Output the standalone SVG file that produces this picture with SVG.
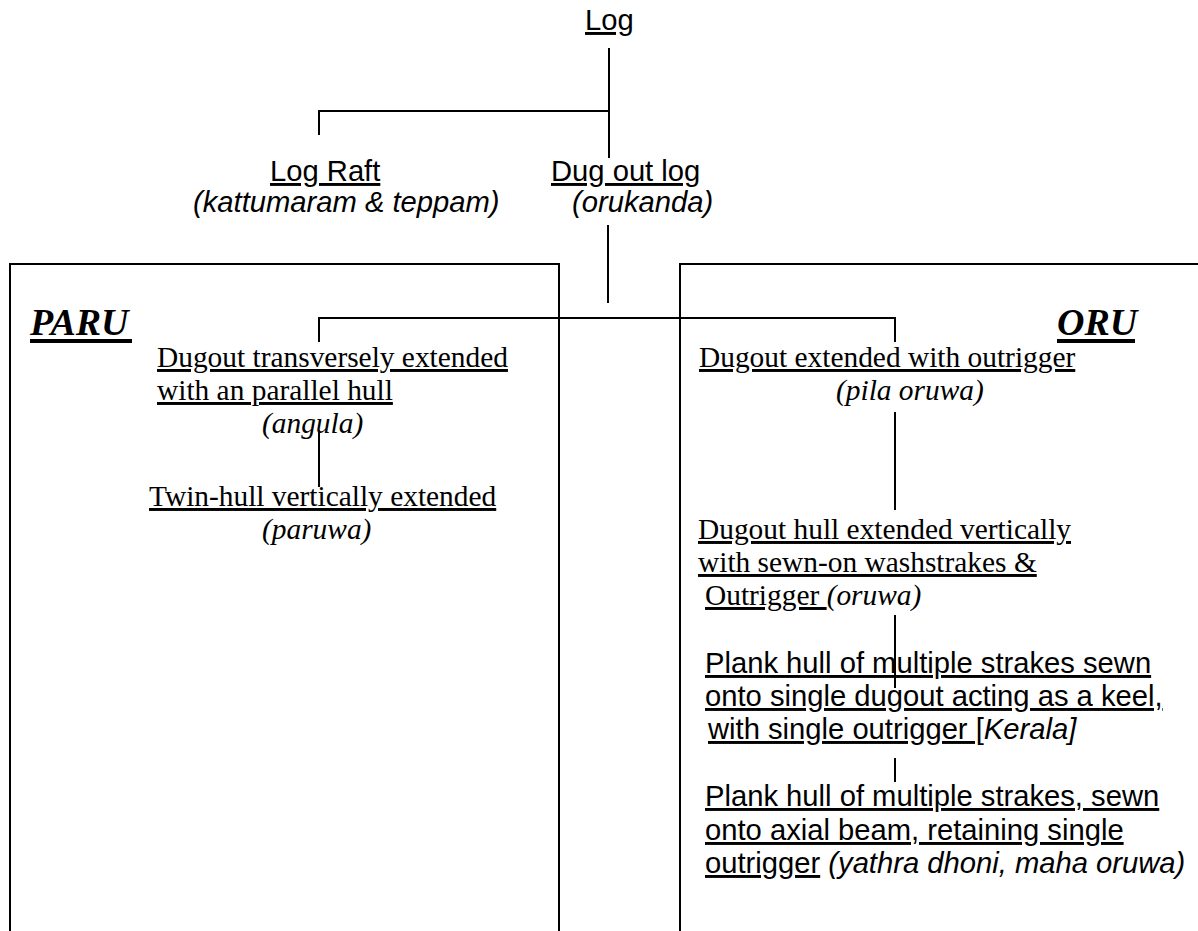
<svg xmlns="http://www.w3.org/2000/svg" width="1198" height="931" viewBox="0 0 1198 931">
<style>
.a{font-family:"Liberation Sans",Arial,sans-serif;font-size:29.2px;fill:#000}
.t{font-family:"Liberation Serif","Times New Roman",serif;font-size:29.4px;fill:#000}
.u{text-decoration:underline}
.i{font-style:italic}
.h{font-family:"Liberation Serif","Times New Roman",serif;font-size:38px;font-weight:bold;font-style:italic;fill:#000}
.ln{stroke:#000;stroke-width:2;fill:none}
.ul{stroke:#000;stroke-width:4}
</style>
<rect width="1198" height="931" fill="#fff"/>
<g id="frames">
<path class="ln" d="M10,931 V264 H559 V931"/>
<path class="ln" d="M680,931 V264 H1198"/>
</g>
<g id="connectors">
<path class="ln" d="M609,48 V158"/>
<path class="ln" d="M319,135 V111 H609"/>
<path class="ln" d="M608,225 V303"/>
<path class="ln" d="M319,342 V318 H895 V342"/>
<path class="ln" d="M319,430 V487"/>
<path class="ln" d="M895,412 V510"/>
<path class="ln" d="M895,615 V688"/>
<path class="ln" d="M895,758 V782"/>
</g>
<g id="log"><text class="a u" x="585" y="30">Log</text></g>
<g id="lograft">
<text class="a u" x="270" y="181">Log Raft</text>
<text class="a i" x="193" y="212">(kattumaram &amp; teppam)</text>
</g>
<g id="dugoutlog">
<text class="a u" x="551" y="181">Dug out log</text>
<text class="a i" x="572" y="212">(orukanda)</text>
</g>
<g id="paru">
<text class="h" x="30" y="335">PARU</text>
<line class="ul" x1="30" y1="341" x2="132" y2="341"/>
</g>
<g id="oru">
<text class="h" x="1057" y="335">ORU</text>
<line class="ul" x1="1057" y1="341" x2="1135" y2="341"/>
</g>
<g id="angula">
<text class="t u" x="157" y="367">Dugout transversely extended</text>
<text class="t u" x="157" y="400">with an parallel hull</text>
<text class="t i" x="262" y="433">(angula)</text>
</g>
<g id="paruwa">
<text class="t u" x="149" y="506">Twin-hull vertically extended</text>
<text class="t i" x="262" y="539">(paruwa)</text>
</g>
<g id="pilaoruwa">
<text class="t u" x="699" y="367">Dugout extended with outrigger</text>
<text class="t i" x="836" y="400">(pila oruwa)</text>
</g>
<g id="oruwa">
<text class="t u" x="698" y="539">Dugout hull extended vertically</text>
<text class="t u" x="698" y="572">with sewn-on washstrakes &amp;</text>
<text class="t" x="705" y="605"><tspan class="u" xml:space="preserve">Outrigger </tspan><tspan class="i">(oruwa)</tspan></text>
</g>
<g id="kerala">
<text class="a u" x="705" y="673">Plank hull of multiple strakes sewn</text>
<text class="a u" x="705" y="706">onto single dugout acting as a keel,</text>
<text class="a" x="708" y="739"><tspan class="u">with single outrigger [</tspan><tspan class="i">Kerala]</tspan></text>
</g>
<g id="yathra">
<text class="a u" x="705" y="806">Plank hull of multiple strakes, sewn</text>
<text class="a u" x="705" y="840">onto axial beam, retaining single</text>
<text class="a" x="705" y="873"><tspan class="u">outrigger</tspan> <tspan class="i">(yathra dhoni, maha oruwa)</tspan></text>
</g>
</svg>
